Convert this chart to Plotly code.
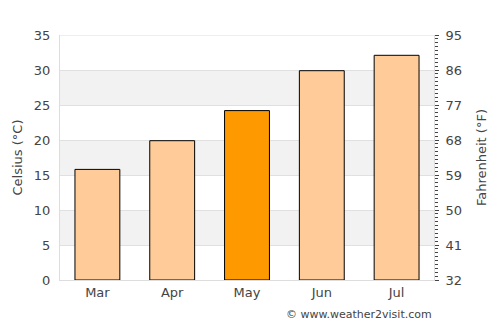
import plotly.graph_objects as go

months = ["Mar", "Apr", "May", "Jun", "Jul"]
celsius = [15.8, 19.9, 24.2, 29.9, 32.1]
colors = ["#FFCC99", "#FFCC99", "#FF9900", "#FFCC99", "#FFCC99"]
c_ticks = [0, 5, 10, 15, 20, 25, 30, 35]
f_ticks = [32, 41, 50, 59, 68, 77, 86, 95]

fig = go.Figure()
fig.add_trace(go.Bar(x=months, y=celsius, marker=dict(color=colors, line=dict(color="black", width=1)),
                     width=0.6, hoverinfo="skip"))
fig.add_trace(go.Scatter(x=months, y=[c * 9 / 5 + 32 for c in celsius], yaxis="y2",
                         mode="markers", marker=dict(opacity=0), hoverinfo="skip", showlegend=False))

shapes = []
for lo in [5, 15, 25]:
    shapes.append(dict(type="rect", xref="paper", yref="y", x0=0, x1=1, y0=lo, y1=lo + 5,
                       fillcolor="#F2F2F2", line=dict(width=0), layer="below"))
shapes.append(dict(type="line", xref="paper", yref="y", x0=0, x1=1, y0=35, y1=35,
                   line=dict(color="#DDDDDD", width=1), layer="below"))
fig.update_layout(
    width=500, height=325,
    margin=dict(l=60, r=66, t=35, b=45),
    paper_bgcolor="white", plot_bgcolor="white",
    showlegend=False,
    bargap=0.4,
    shapes=shapes,
    font=dict(family="DejaVu Sans", size=13, color="#444444"),
    xaxis=dict(showgrid=False, showline=True, linecolor="#DDDDDD", ticks="", tickfont=dict(size=13)),
    yaxis=dict(range=[0, 35], tickvals=c_ticks, showgrid=True, gridcolor="#E0E0E0",
               showline=True, linecolor="#DDDDDD", zeroline=False, ticks="", ticklabelstandoff=6,
               title=dict(text="Celsius (°C)", font=dict(size=13), standoff=8), tickfont=dict(size=13)),
    yaxis2=dict(range=[32, 95], overlaying="y", side="right", tickvals=f_ticks, showgrid=False,
                showline=True, linecolor="#DDDDDD", zeroline=False, ticks="outside", ticklen=4,
                tickcolor="#444444", ticklabelstandoff=4,
                minor=dict(dtick=1, tick0=32, ticks="outside", ticklen=3, tickcolor="#444444", showgrid=False),
                title=dict(text="Fahrenheit (°F)", font=dict(size=13)), tickfont=dict(size=13)),
    annotations=[dict(text="© www.weather2visit.com", xref="paper", yref="paper", x=1.0, y=-0.105,
                      xanchor="right", yanchor="top", showarrow=False,
                      font=dict(size=11, color="#444444"))],
)
fig.write_html("out.html")
